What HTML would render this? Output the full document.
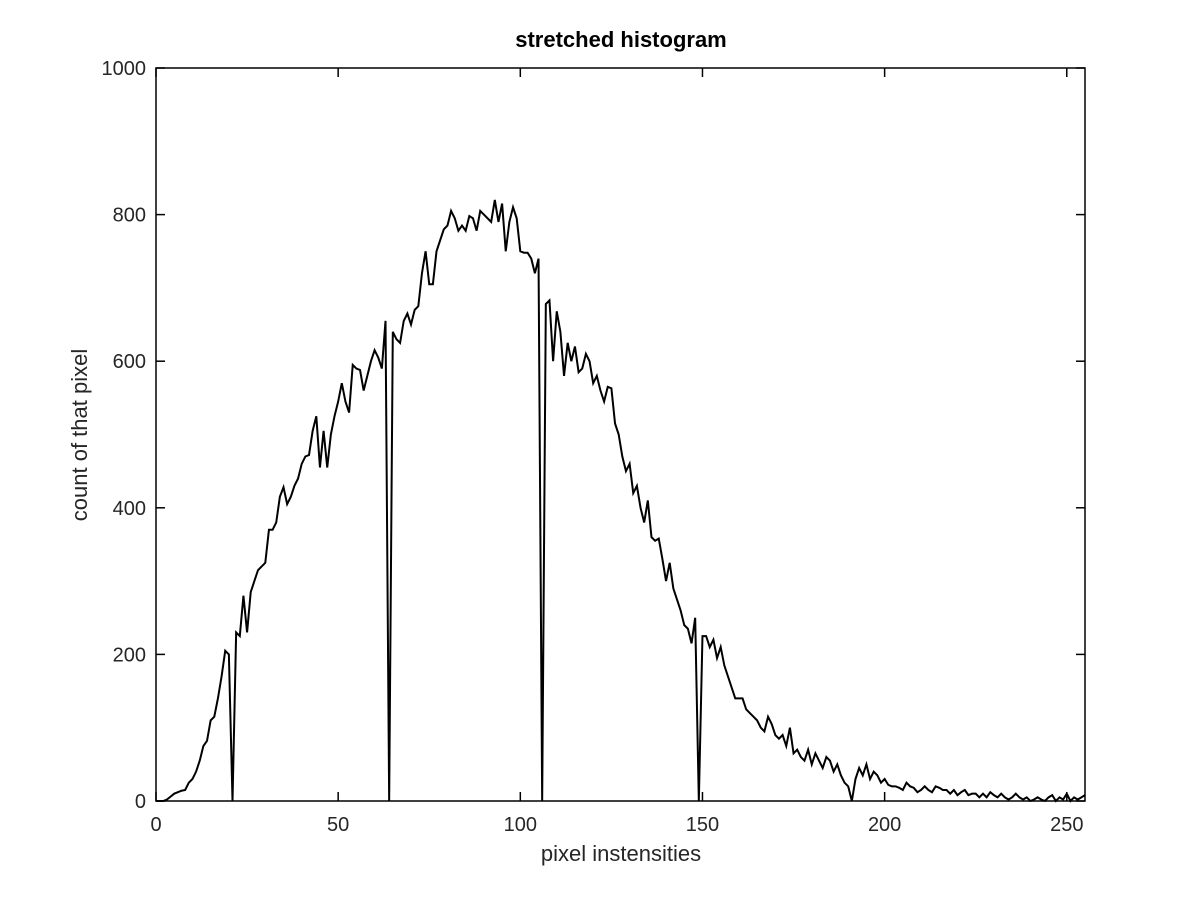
<!DOCTYPE html>
<html><head><meta charset="utf-8"><style>
body{margin:0;background:#fff;}
svg{display:block;font-family:"Liberation Sans",sans-serif;}
</style></head><body>
<svg id="chart" width="1200" height="900">
<rect width="1200" height="900" fill="#fff"/>
<text x="621" y="47" text-anchor="middle" font-size="22" font-weight="bold">stretched histogram</text>
<text x="621" y="861" text-anchor="middle" font-size="22" fill="#262626">pixel instensities</text>
<text transform="translate(87,435) rotate(-90)" text-anchor="middle" font-size="22" fill="#262626">count of that pixel</text>
<g id="axes"></g>
<path id="line" fill="none" stroke="#000" stroke-width="2"/>
<rect x="156" y="68" width="929" height="733" fill="none" stroke="#000" stroke-width="1.5"/>
</svg>
<script>
const counts = [0,0,0,2,6,10,12,14,15,25,30,40,55,75,82,110,115,140,170,205,200,0,230,225,280,230,285,300,315,320,325,370,370,380,415,428,405,415,430,440,460,470,472,505,525,455,505,455,500,525,545,570,545,530,595,590,588,560,580,600,615,605,590,655,0,640,630,625,655,665,650,670,675,720,750,705,705,750,765,780,785,805,795,778,785,778,798,795,778,805,800,795,790,820,790,815,750,790,810,795,750,748,748,740,720,740,0,678,683,600,668,640,580,625,600,620,585,590,610,600,570,580,560,545,565,563,515,500,470,450,460,420,430,400,380,410,360,355,358,330,300,325,290,275,260,240,235,215,250,0,225,225,210,220,195,210,185,170,155,140,140,140,125,120,115,110,100,95,115,105,90,85,90,75,100,65,70,60,55,70,50,65,55,45,60,55,40,50,35,25,20,0,30,45,35,50,30,40,35,25,30,22,20,20,18,15,25,20,18,12,15,20,15,12,20,18,15,15,10,15,8,12,15,8,10,10,5,10,5,12,8,5,10,5,2,5,10,5,2,5,0,2,5,2,0,5,8,0,5,2,10,0,5,2,5,8];
const xTicks = [0,50,100,150,200,250];
const yTicks = [0,200,400,600,800,1000];
const X0=156,X1=1085,Y0=801,Y1=68,XMAX=255,YMAX=1000;
const xs=v=>X0+v/XMAX*(X1-X0);
const ys=v=>Y0-v/YMAX*(Y0-Y1);
const NS="http://www.w3.org/2000/svg";
const axes=document.getElementById('axes');
function mk(tag,attrs){const e=document.createElementNS(NS,tag);for(const k in attrs)e.setAttribute(k,attrs[k]);axes.appendChild(e);return e;}
xTicks.forEach(t=>{
  const x=xs(t);
  const a=mk('line',{x1:x,x2:x,y1:Y0,y2:Y0-9,stroke:'#000','stroke-width':1.5});
  
  
  const b=mk('line',{x1:x,x2:x,y1:Y1,y2:Y1+9,stroke:'#000','stroke-width':1.5});
  
  
  const l=mk('text',{x:x,y:Y0+30,'text-anchor':'middle','font-size':20,fill:'#262626'});
  l.textContent=t;
  
  
});
yTicks.forEach(t=>{
  const y=ys(t);
  const a=mk('line',{x1:X0,x2:X0+9,y1:y,y2:y,stroke:'#000','stroke-width':1.5});
  
  
  const b=mk('line',{x1:X1,x2:X1-9,y1:y,y2:y,stroke:'#000','stroke-width':1.5});
  
  
  const l=mk('text',{x:X0-10,y:y+7,'text-anchor':'end','font-size':20,fill:'#262626'});
  l.textContent=t;
  
  
});
document.getElementById('line').setAttribute('d',counts.map((v,i)=>(i?'L':'M')+xs(i).toFixed(2)+','+ys(v).toFixed(2)).join(''));
</script>
</body></html>
